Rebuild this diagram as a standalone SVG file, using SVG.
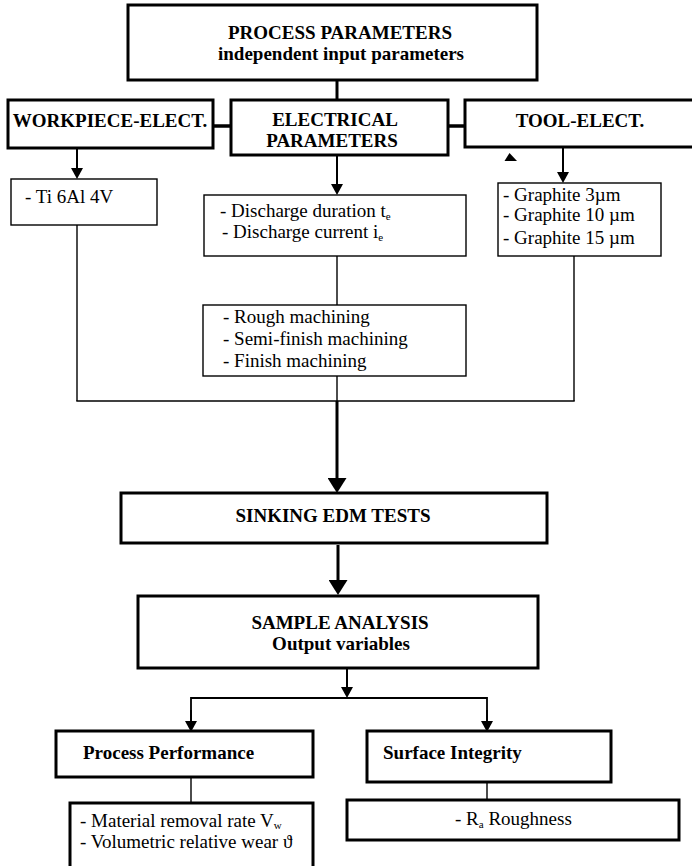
<svg xmlns="http://www.w3.org/2000/svg" width="692" height="866" viewBox="0 0 692 866">
<style>
text{font-family:"Liberation Serif","Times New Roman",serif;font-size:19px;fill:#000}
.b{font-weight:bold}
.m{text-anchor:middle}
.sub{font-size:11px}
.thick{fill:#fff;stroke:#000;stroke-width:3}
.thin{fill:#fff;stroke:#000;stroke-width:1.4}
.c{fill:none;stroke:#000}
</style>
<defs>
<marker id="ah" markerUnits="userSpaceOnUse" markerWidth="12" markerHeight="12" refX="0" refY="6" orient="auto"><path d="M0,0 L11,6 L0,12 z" fill="#000"/></marker>
<marker id="ahb" markerUnits="userSpaceOnUse" markerWidth="16" markerHeight="19" refX="0" refY="9.5" orient="auto"><path d="M0,0 L15,9.5 L0,19 z" fill="#000"/></marker>
</defs>
<rect width="692" height="866" fill="#fff"/>
<g id="connectors">
<line class="c" x1="337" y1="80" x2="337" y2="100" stroke-width="3"/>
<line class="c" x1="213" y1="126" x2="232" y2="126" stroke-width="3.5"/>
<line class="c" x1="448" y1="126" x2="466" y2="126" stroke-width="3.5"/>
<line class="c" x1="77" y1="148" x2="77" y2="168" stroke-width="2" marker-end="url(#ah)"/>
<line class="c" x1="337" y1="155" x2="337" y2="184" stroke-width="2" marker-end="url(#ah)"/>
<line class="c" x1="563" y1="147" x2="563" y2="172" stroke-width="2" marker-end="url(#ah)"/>
<polygon points="509.5,153 504.5,161 517,161" fill="#000"/>
<line class="c" x1="77" y1="225" x2="77" y2="401" stroke-width="1.4"/>
<line class="c" x1="337" y1="256" x2="337" y2="305" stroke-width="1.4"/>
<line class="c" x1="574" y1="256" x2="574" y2="401" stroke-width="1.4"/>
<line class="c" x1="337" y1="376" x2="337" y2="401" stroke-width="1.4"/>
<line class="c" x1="76.3" y1="401" x2="574.7" y2="401" stroke-width="1.4"/>
<line class="c" x1="337" y1="401" x2="337" y2="478" stroke-width="3" marker-end="url(#ahb)"/>
<line class="c" x1="338" y1="545" x2="338" y2="580" stroke-width="3" marker-end="url(#ahb)"/>
<line class="c" x1="347" y1="668" x2="347" y2="687" stroke-width="2" marker-end="url(#ah)"/>
<polyline class="c" points="191,721 191,698 487,698 487,721" stroke-width="1.8"/>
<line class="c" x1="191" y1="710" x2="191" y2="721" stroke-width="1.8" marker-end="url(#ah)"/>
<line class="c" x1="487" y1="710" x2="487" y2="721" stroke-width="1.8" marker-end="url(#ah)"/>
<line class="c" x1="191" y1="777" x2="191" y2="803" stroke-width="1.4"/>
<line class="c" x1="487" y1="782" x2="487" y2="800" stroke-width="1.4"/>
</g>
<g id="process-parameters">
<rect class="thick" x="128" y="5" width="409" height="75"/>
<text class="b m" x="340" y="39">PROCESS PARAMETERS</text>
<text class="b m" x="341" y="60">independent input parameters</text>
</g>
<g id="workpiece-elect">
<rect class="thick" x="8" y="100" width="205" height="48"/>
<text class="b m" x="110" y="127">WORKPIECE-ELECT.</text>
</g>
<g id="electrical-parameters">
<rect class="thick" x="231" y="100" width="217" height="55"/>
<text class="b m" x="335" y="126">ELECTRICAL</text>
<text class="b m" x="332" y="147">PARAMETERS</text>
</g>
<g id="tool-elect">
<rect class="thick" x="465" y="100" width="232" height="47"/>
<text class="b m" x="580" y="127">TOOL-ELECT.</text>
</g>
<g id="ti-alloy">
<rect class="thin" x="11" y="179" width="146" height="46"/>
<text x="25" y="203">- Ti 6Al 4V</text>
</g>
<g id="discharge">
<rect class="thin" x="204" y="195" width="262" height="61"/>
<text x="220" y="217">- Discharge duration t<tspan class="sub" dy="2.5">e</tspan></text>
<text x="222" y="238">- Discharge current i<tspan class="sub" dy="2.5">e</tspan></text>
</g>
<g id="graphite">
<rect class="thin" x="498" y="183" width="163" height="73"/>
<text x="503" y="201">- Graphite 3µm</text>
<text x="503" y="221">- Graphite 10 µm</text>
<text x="503" y="244">- Graphite 15 µm</text>
</g>
<g id="machining">
<rect class="thin" x="203" y="305" width="263" height="71"/>
<text x="223" y="323">- Rough machining</text>
<text x="223" y="345">- Semi-finish machining</text>
<text x="223" y="367">- Finish machining</text>
</g>
<g id="sinking-edm-tests">
<rect class="thick" x="121" y="493" width="426" height="50"/>
<text class="b m" x="333" y="522">SINKING EDM TESTS</text>
</g>
<g id="sample-analysis">
<rect class="thick" x="138" y="596" width="400" height="72"/>
<text class="b m" x="340" y="629">SAMPLE ANALYSIS</text>
<text class="b m" x="341" y="650">Output variables</text>
</g>
<g id="process-performance">
<rect class="thick" x="56" y="731" width="257" height="46"/>
<text class="b" x="83" y="759">Process Performance</text>
</g>
<g id="surface-integrity">
<rect class="thick" x="367" y="731" width="244" height="51"/>
<text class="b" x="383" y="759">Surface Integrity</text>
</g>
<g id="performance-outputs">
<rect class="thick" x="70" y="803" width="243" height="75"/>
<text x="80" y="827">- Material removal rate V<tspan class="sub" dy="2">w</tspan></text>
<text x="80" y="848">- Volumetric relative wear ϑ</text>
</g>
<g id="roughness">
<rect class="thick" x="347" y="800" width="332" height="40"/>
<text x="455" y="825">- R<tspan class="sub" dy="2.5">a</tspan><tspan dy="-2.5"> Roughness</tspan></text>
</g>
</svg>
